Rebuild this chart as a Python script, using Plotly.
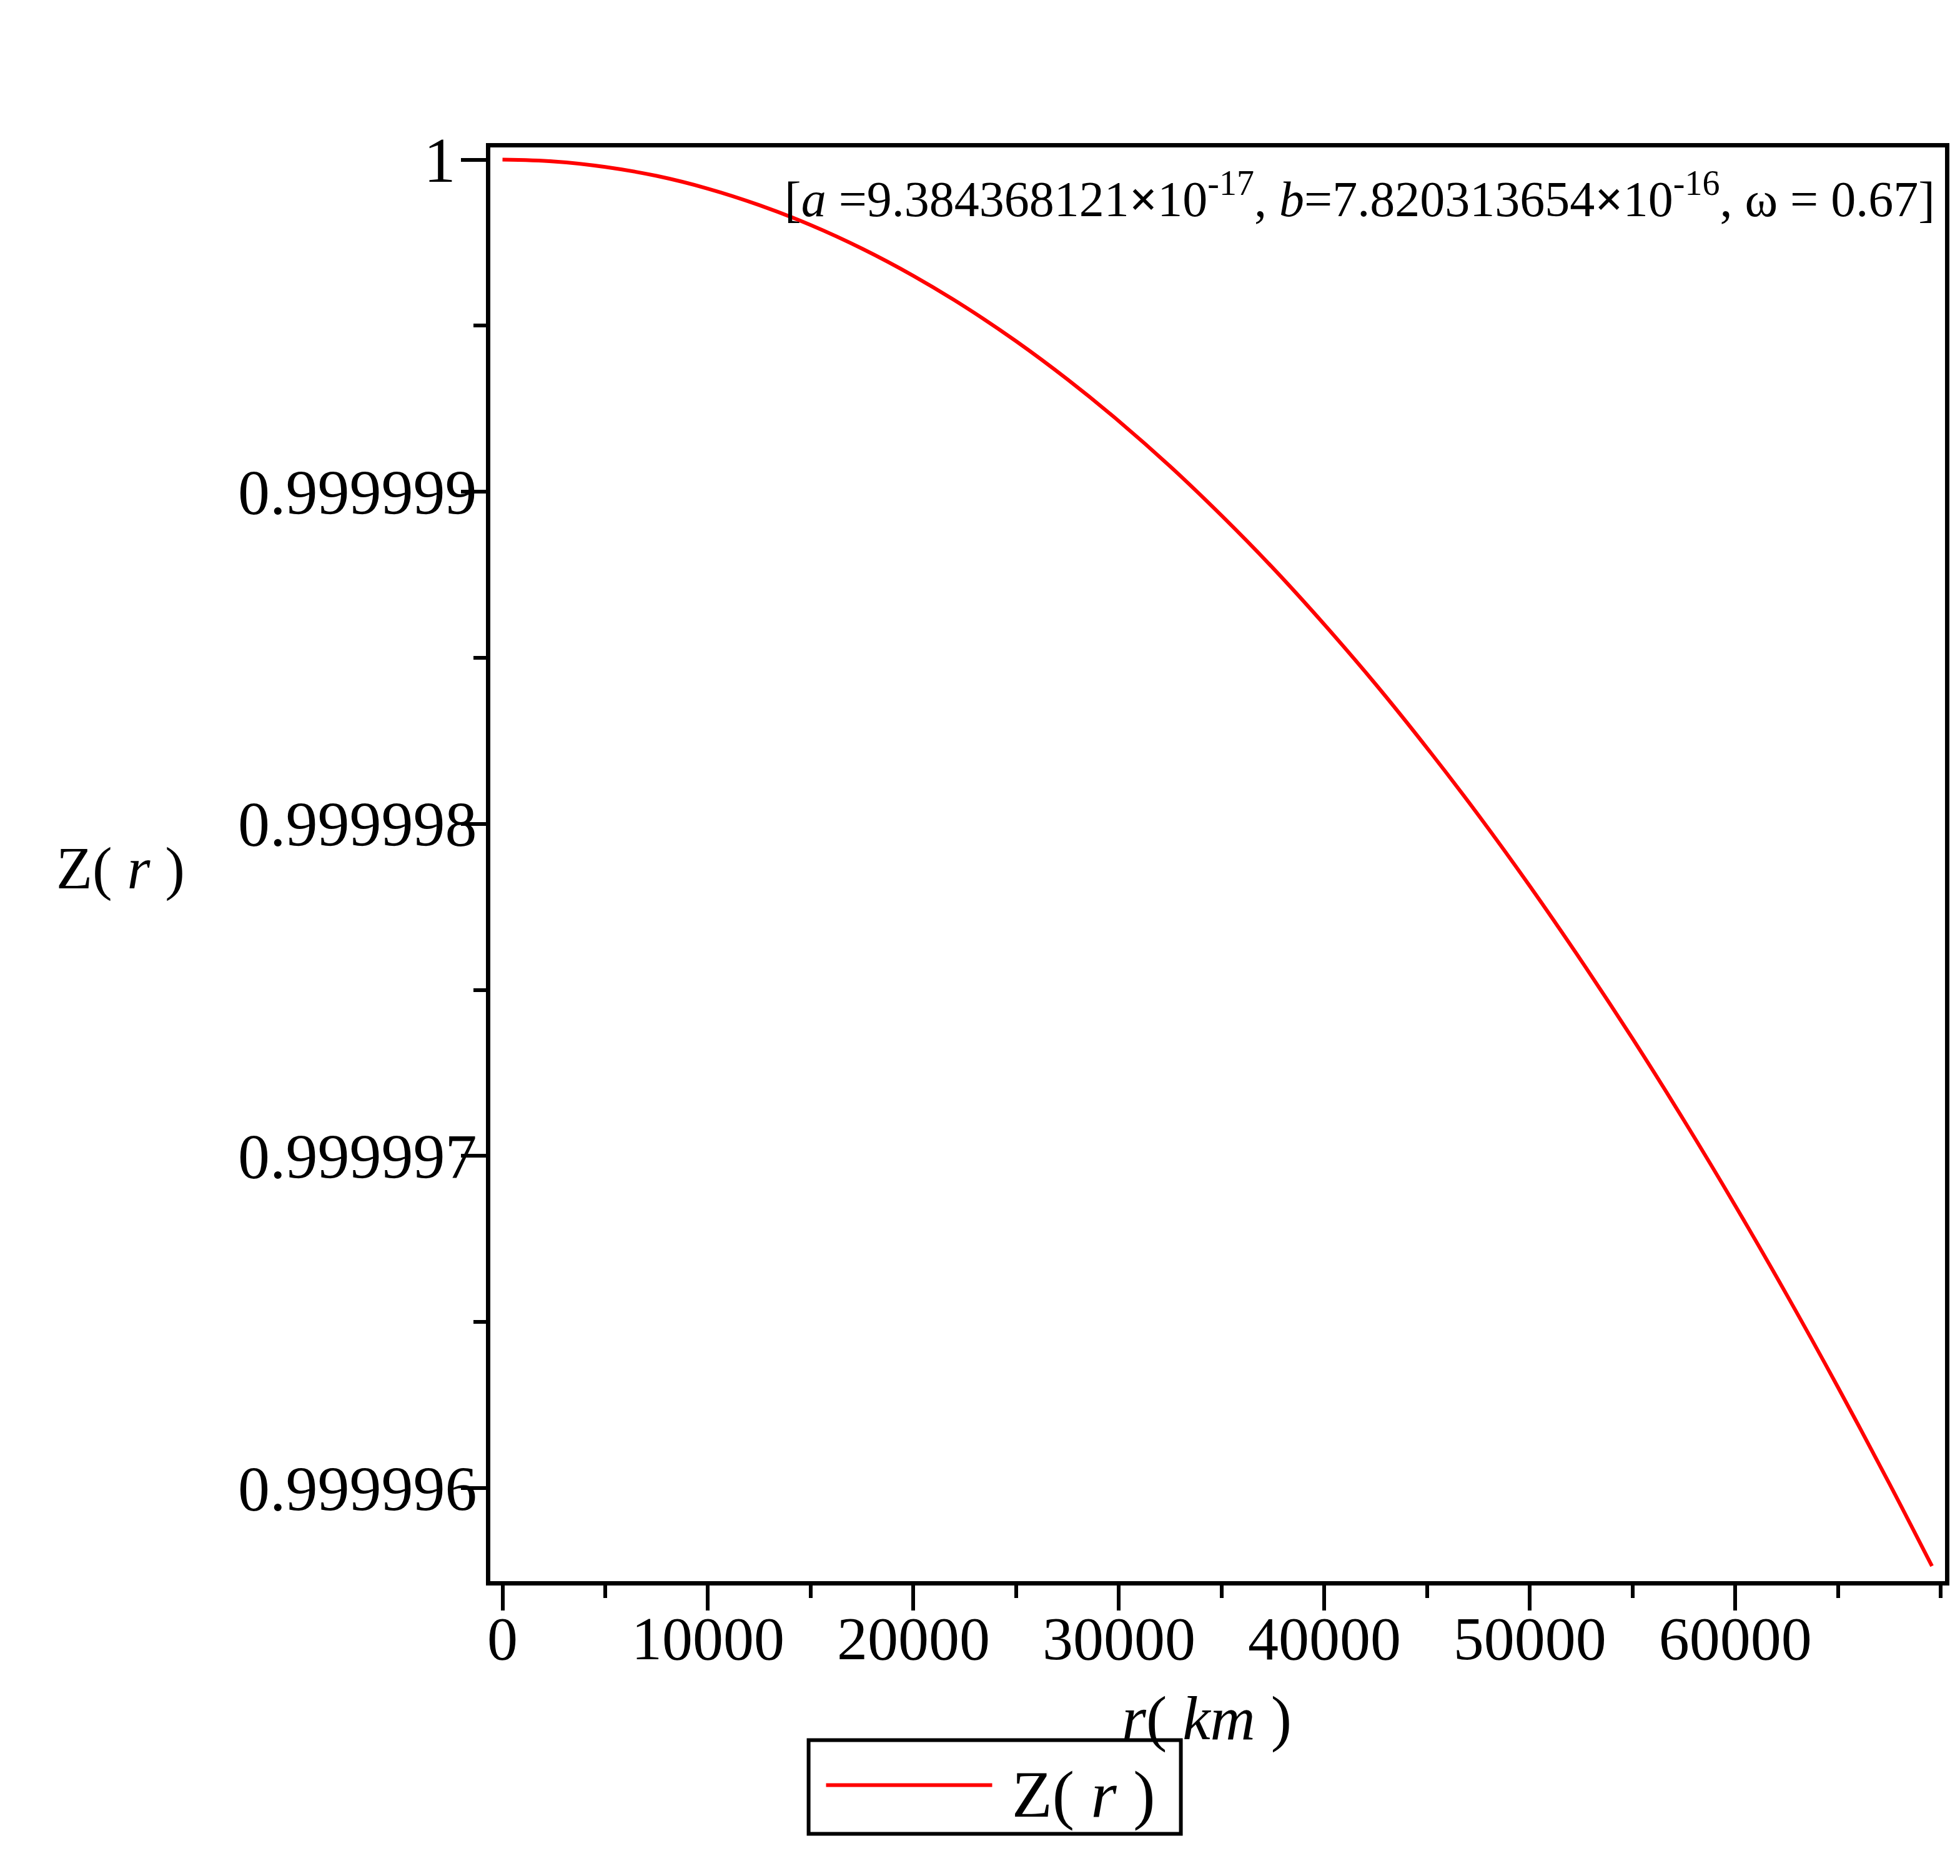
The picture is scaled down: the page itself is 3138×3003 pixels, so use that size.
import plotly.graph_objects as go

# ---- data ----
r_km = [0, 2500, 5000, 7500, 10000, 12500, 15000, 17500, 20000, 22500,
        25000, 27500, 30000, 32500, 35000, 37500, 40000, 42500, 45000,
        47500, 50000, 52500, 55000, 57500, 60000, 62500, 65000, 67500, 69570]
Z_r = [1.0, 0.9999999945, 0.999999978, 0.999999951, 0.9999999125,
       0.999999863, 0.999999803, 0.999999732, 0.99999965, 0.999999557,
       0.999999453, 0.999999338, 0.9999992125, 0.999999076, 0.999998928,
       0.99999877, 0.9999986, 0.99999842, 0.999998228, 0.999998026,
       0.9999978125, 0.999997588, 0.999997353, 0.999997107, 0.99999685,
       0.999996582, 0.999996303, 0.999996013, 0.999995765]

y_tickvals = [0.999996, 0.999997, 0.999998, 0.999999, 1.0]
y_ticktext = ["0.999996", "0.999997", "0.999998", "0.999999", "1\u2004"]
x_tickvals = [0, 10000, 20000, 30000, 40000, 50000, 60000]
x_ticktext = ["0", "10000", "20000", "30000", "40000", "50000", "60000"]

series_name = "Z( <i>r</i> )"
param_text = ("[<i>a</i> =9.384368121<b>×</b>10<sup>-17</sup>, <i>b</i>=7.820313654<b>×</b>10<sup>-16</sup>, "
              "ω = 0.67]")

FONT = "Liberation Serif"

fig = go.Figure()
fig.add_trace(go.Scatter(
    x=r_km, y=Z_r, mode="lines", name="Z(r)",
    line=dict(color="#FF0000", width=6, shape="spline", smoothing=1.0),
    showlegend=False,
))

W, H = 3138, 3003
L, R, T, B = 785, 24, 236, 472

fig.update_layout(
    width=W, height=H,
    margin=dict(l=L, r=R, t=T, b=B, pad=0),
    paper_bgcolor="white", plot_bgcolor="white",
    font=dict(family=FONT, color="black", size=100),
    showlegend=False,
)

fig.update_xaxes(
    range=[-593, 70204],
    showgrid=False, zeroline=False,
    showline=True, linecolor="black", linewidth=7, mirror=True,
    ticks="outside", ticklen=40, tickwidth=6, tickcolor="black",
    tickvals=x_tickvals, ticktext=x_ticktext,
    tickfont=dict(family=FONT, size=98, color="black"),
    ticklabelstandoff=-40,
    minor=dict(ticks="outside", ticklen=20, tickwidth=6, tickcolor="black",
               tick0=0, dtick=5000, showgrid=False),
)
fig.update_yaxes(
    range=[0.9999957198, 1.0000000367],
    showgrid=False, zeroline=False,
    showline=True, linecolor="black", linewidth=7, mirror=True,
    ticks="outside", ticklen=40, tickwidth=6, tickcolor="black",
    tickvals=y_tickvals, ticktext=y_ticktext,
    tickfont=dict(family=FONT, size=102, color="black"),
    ticklabelstandoff=-46,
    minor=dict(ticks="outside", ticklen=20, tickwidth=6, tickcolor="black",
               tick0=0.999996, dtick=0.0000005, showgrid=False),
)

# axis titles
fig.add_annotation(text="<i>r</i>( <i>km</i> )", xref="paper", yref="paper",
                   x=0.4925, y=-0.0957, xanchor="center", yanchor="middle",
                   showarrow=False, font=dict(family=FONT, size=100, color="black"))
fig.add_annotation(text="Z( <i>r</i> )", xref="paper", yref="paper",
                   x=-0.2544, y=0.497, xanchor="center", yanchor="middle",
                   showarrow=False, font=dict(family=FONT, size=95, color="black"))

# parameter annotation
fig.add_annotation(text=param_text, xref="paper", yref="paper",
                   x=0.9938, y=0.9667, xanchor="right", yanchor="middle",
                   showarrow=False, font=dict(family=FONT, size=80, color="black"))

# legend (drawn box)
fig.add_shape(type="rect", xref="paper", yref="paper",
              x0=0.2188, x1=0.4747, y0=-0.1763, y1=-0.1109,
              line=dict(color="black", width=6), fillcolor="white")
fig.add_shape(type="line", xref="paper", yref="paper",
              x0=0.2308, x1=0.345, y0=-0.1423, y1=-0.1423,
              line=dict(color="#FF0000", width=6))
fig.add_annotation(text=series_name, xref="paper", yref="paper",
                   x=0.4077, y=-0.1489, xanchor="center", yanchor="middle",
                   showarrow=False, font=dict(family=FONT, size=106, color="black"))

fig.write_html("out.html")
